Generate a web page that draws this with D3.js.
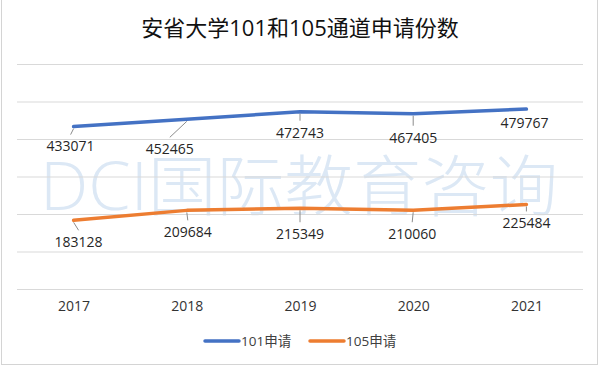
<!DOCTYPE html>
<html>
<head>
<meta charset="utf-8">
<script src="https://cdn.jsdelivr.net/npm/d3@7"></script>
<style>
  body { margin: 0; background: #fff; }
  text { font-family: "Open Sans", "Noto Sans CJK SC", sans-serif; }
</style>
</head>
<body>
<div id="chart"></div>
<script>
const years = ['2017', '2018', '2019', '2020', '2021']
const seriesNames = ['101申请', '105申请']
const apps101 = [433071, 452465, 472743, 467405, 479767]
const apps105 = [183128, 209684, 215349, 210060, 225484]
const yTicks = [0, 100000, 200000, 300000, 400000, 500000, 600000]
const colors = ['#4472C4', '#ED7D31']

// label offsets from each point (px), as dragged in the original
const labelShift101 = [[-3, 20], [-17, 30], [0, 21], [0, 24], [-2, 14]]
const labelShift105 = [[5, 22], [1, 22], [0, 26], [-1, 24], [0, 19]]

const width = 600, height = 368
const margin = {top: 64, right: 17, bottom: 79, left: 17}

const svg = d3.select('#chart').append('svg')
  .attr('width', width)
  .attr('height', height)

// chart frame
svg.append('rect')
  .attr('x', 1.5).attr('y', -1)
  .attr('width', 596).attr('height', 365.5)
  .attr('fill', '#fff')
  .attr('stroke', '#d4d4d4')

const xScale = d3.scalePoint()
  .domain(years)
  .range([margin.left, width - margin.right])
  .padding(0.5)
const yScale = d3.scaleLinear()
  .domain([0, 600000])
  .range([height - margin.bottom, margin.top])

// watermark
svg.append('text')
  .attr('x', 40).attr('y', 210)
  .attr('textLength', 518)
  .attr('lengthAdjust', 'spacingAndGlyphs')
  .attr('font-size', 66)
  .attr('font-weight', 300)
  .attr('fill', '#dce8f5')
  .text('DCI国际教育咨询')

// gridlines
const yAxis = d3.axisLeft(yScale)
  .tickValues(yTicks)
  .tickSize(-(width - margin.left - margin.right))
  .tickFormat('')
svg.append('g')
  .attr('transform', `translate(${margin.left}, 0)`)
  .call(yAxis)
  .call(g => g.select('.domain').remove())
  .call(g => g.selectAll('line').attr('stroke', '#d9d9d9'))

// category labels
const xAxis = d3.axisBottom(xScale).tickSize(0).tickPadding(12)
svg.append('g')
  .attr('transform', `translate(0, ${height - margin.bottom})`)
  .call(xAxis)
  .call(g => g.select('.domain').remove())
  .call(g => g.selectAll('text')
    .attr('font-size', 14)
    .attr('fill', '#333')
    .attr('font-family', '"Open Sans", sans-serif'))

const line = d3.line()
  .x((d, i) => xScale(years[i]))
  .y(d => yScale(d))

const series = [
  {name: seriesNames[0], values: apps101, shift: labelShift101, color: colors[0]},
  {name: seriesNames[1], values: apps105, shift: labelShift105, color: colors[1]}
]

series.forEach(s => {
  svg.append('path')
    .datum(s.values)
    .attr('d', line)
    .attr('fill', 'none')
    .attr('stroke', s.color)
    .attr('stroke-width', 3.5)
    .attr('stroke-linecap', 'round')
    .attr('stroke-linejoin', 'round')

  const lab = svg.append('g')
  s.values.forEach((v, i) => {
    const px = xScale(years[i]), py = yScale(v)
    const [dx, dy] = s.shift[i]
    const lx = px + dx, ly = py + dy
    if (dy > 16) {
      lab.append('line')
        .attr('x1', px).attr('y1', py + 2)
        .attr('x2', lx).attr('y2', ly - 12)
        .attr('stroke', '#8c8c8c')
        .attr('stroke-width', 1)
    }
    lab.append('text')
      .attr('x', lx).attr('y', ly)
      .attr('dy', '0.35em')
      .attr('text-anchor', 'middle')
      .attr('font-size', 14)
      .attr('fill', '#262626')
      .text(v)
  })
})

// title
svg.append('text')
  .attr('x', 300).attr('y', 28)
  .attr('dy', '0.35em')
  .attr('text-anchor', 'middle')
  .attr('font-size', 22)
  .attr('fill', '#111')
  .attr('font-family', '"Noto Sans CJK SC", sans-serif')
  .text('安省大学101和105通道申请份数')

// legend
const legend = svg.append('g')
  .attr('transform', 'translate(205, 341)')
series.forEach((s, i) => {
  const g = legend.append('g').attr('transform', `translate(${i * 105}, 0)`)
  g.append('line')
    .attr('x1', 0).attr('x2', 34)
    .attr('stroke', s.color)
    .attr('stroke-width', 3.5)
    .attr('stroke-linecap', 'round')
  g.append('text')
    .attr('x', 36).attr('dy', '0.35em')
    .attr('font-size', 13.5)
    .attr('fill', '#404040')
    .text(s.name)
})
</script>
</body>
</html>
